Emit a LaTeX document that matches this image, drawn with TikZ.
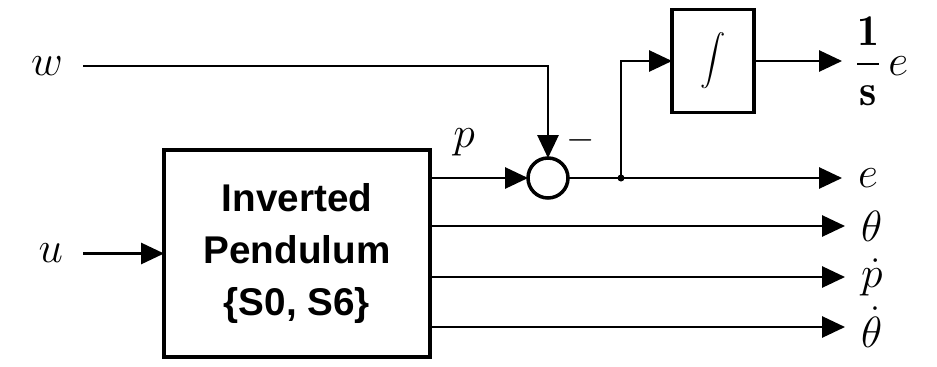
\documentclass[tikz,border=0pt]{standalone}
\usepackage{exscale}
\usepackage{fontspec}
\newfontfamily\blockfont{Liberation Sans}
\usetikzlibrary{arrows.meta}

\begin{document}
\begin{tikzpicture}[
  x=0.02cm, y=-0.02cm,
  every node/.style={inner sep=0pt, outer sep=0pt},
  blk/.style={draw, line width=2pt, fill=white},
  wire/.style={line width=1.2pt},
  sig/.style={wire, -{Triangle[length=13pt,width=12pt]}},
  lab/.style={font=\fontsize{25}{27}\selectfont},
  inlab/.style={lab, anchor=east, outer xsep=0.4cm},
  outlab/.style={lab, anchor=west, outer xsep=0.32cm},
  btxt/.style={font=\blockfont\bfseries\fontsize{22}{29.5}\selectfont, align=center},
]
\useasboundingbox (0,0) rectangle (937,366);

% blocks
\node[blk, btxt, minimum width=5.32cm, minimum height=4.14cm] (plant) at (297,253.5)
  {Inverted\\Pendulum\\\{S0, S6\}};
\node[draw, circle, line width=2pt, minimum size=0.8cm] (sum) at (548,178) {};
\node[blk, minimum width=1.64cm, minimum height=2.06cm] (int) at (713,61)
  {\fontsize{15}{18}\selectfont$\displaystyle\int$};

% inputs
\node[inlab] (w) at (83,66) {$w$};
\node[inlab] (u) at (83,253.5) {$u$};
\draw[sig] (w.east) -| (sum.north);
\draw[sig] (u.east) -- (plant.west);

% comparison p - w
\draw[sig] (plant.east |- sum) -- node[lab, above=0.45cm, xshift=-0.3cm] (p) {$p$} (sum.west);
\node[font=\fontsize{20}{22}\selectfont] (minus) at (581,140) {$-$};
\coordinate (jn) at (621,178);
\fill (jn) circle (0.07cm);
\draw[wire] (sum.east) -- (jn);
\draw[sig] (jn) |- (int.west);

% outputs
\node[outlab, outer xsep=0.26cm] (ie) at (842,61)
  {$\displaystyle\frac{\mathbf{1}}{\mathbf{s}}\,e$};
\node[outlab] (e) at (842,178) {$e$};
\node[outlab] (th) at (845,226) {$\theta$};
\node[outlab] (pd) at (845,277) {$\dot p$};
\node[outlab] (thd) at (845,327) {$\dot\theta$};
\draw[sig] (int.east) -- (ie.west);
\draw[sig] (jn) -- (e.west);
\foreach \n in {th, pd, thd}{
  \draw[sig] (plant.east |- \n.west) -- (\n.west);
}

\end{tikzpicture}
\end{document}
